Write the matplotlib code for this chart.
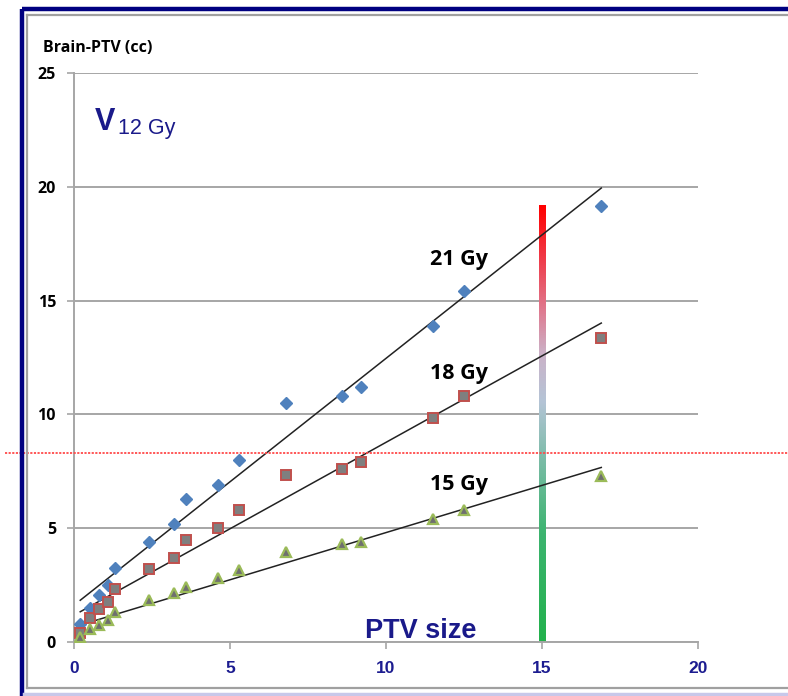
import numpy as np
import matplotlib
matplotlib.use("Agg")
import matplotlib.pyplot as plt
from matplotlib.lines import Line2D
from matplotlib.colors import LinearSegmentedColormap
import matplotlib.transforms as mtransforms

# ---- data ----
ptv_size = [0.2, 0.5, 0.8, 1.1, 1.3, 2.4, 3.2, 3.6, 4.6, 5.3, 6.8, 8.6, 9.2, 11.5, 12.5, 16.9]
v12_21gy = [0.8, 1.5, 2.05, 2.5, 3.25, 4.4, 5.2, 6.3, 6.9, 8.0, 10.5, 10.8, 11.2, 13.9, 15.4, 19.15]
v12_18gy = [0.4, 1.05, 1.45, 1.75, 2.35, 3.2, 3.7, 4.5, 5.0, 5.8, 7.35, 7.6, 7.9, 9.85, 10.8, 13.35]
v12_15gy = [0.2, 0.55, 0.75, 0.97, 1.3, 1.85, 2.15, 2.4, 2.8, 3.15, 3.95, 4.3, 4.4, 5.4, 5.8, 7.3]
series_labels = ["21 Gy", "18 Gy", "15 Gy"]
label_pos = [(12.35, 16.8), (12.35, 11.8), (12.35, 6.9)]
bar_x = 15.0
bar_top = 19.2
threshold_y = 8.3
x_ticks = [0, 5, 10, 15, 20]
y_ticks = [0, 5, 10, 15, 20, 25]

W, H = 788, 696
fig = plt.figure(figsize=(W / 100, H / 100), dpi=100)
fig.patch.set_facecolor("white")

def fx(px):
    return px / W

def fy(py):
    return 1 - py / H

ax = fig.add_axes([fx(74), fy(642), fx(698) - fx(74), fy(73) - fy(642)])
ax.set_xlim(0, 20)
ax.set_ylim(0, 25)
ax.set_facecolor("white")

grid_col = "#a6a6a6"
for s in ["top", "right"]:
    ax.spines[s].set_visible(False)
for s in ["left", "bottom"]:
    ax.spines[s].set_color(grid_col)
    ax.spines[s].set_linewidth(1.4)
ax.set_xticks(x_ticks)
ax.set_yticks(y_ticks)
ax.yaxis.grid(True, color=grid_col, linewidth=1.4)
ax.set_axisbelow(True)
ax.tick_params(axis="both", direction="out", length=5, width=1.2, color=grid_col)
ax.tick_params(axis="y", pad=8)
ax.tick_params(axis="x", pad=9)
for lab in ax.get_yticklabels():
    lab.set_fontfamily("Open Sans")
    lab.set_fontweight("bold")
    lab.set_fontsize(11.5)
    lab.set_color("black")
for lab in ax.get_xticklabels():
    lab.set_fontfamily("Liberation Sans")
    lab.set_fontweight("bold")
    lab.set_fontsize(12.5)
    lab.set_color("#1c1c90")

x = np.array(ptv_size)
series = [np.array(v12_21gy), np.array(v12_18gy), np.array(v12_15gy)]

# gradient bar
cmap = LinearSegmentedColormap.from_list(
    "bar",
    [(0.0, "#22b14c"), (0.25, "#3db470"), (0.42, "#7cbca8"), (0.55, "#b4c4d6"),
     (0.66, "#cbb2c8"), (0.76, "#df7a90"), (0.88, "#f03a48"), (1.0, "#ff0000")])
grad = np.linspace(0, 1, 256).reshape(-1, 1)
ax.imshow(grad, cmap=cmap, origin="lower", aspect="auto",
          extent=[bar_x - 0.11, bar_x + 0.11, 0, bar_top], zorder=2)
ax.set_xlim(0, 20)
ax.set_ylim(0, 25)

# fit lines
xx = np.array([x.min(), x.max()])
for y in series:
    k, b = np.polyfit(x, y, 1)
    ax.plot(xx, k * xx + b, color="#222222", linewidth=1.1, zorder=3)

# markers
ax.plot(x, series[0], linestyle="none", marker="D", markersize=6.0,
        markerfacecolor="#4f81bd", markeredgecolor="#4f81bd", zorder=4)
ax.plot(x, series[1], linestyle="none", marker="s", markersize=7.4,
        markerfacecolor="#7f7f7f", markeredgecolor="#c0504d", markeredgewidth=1.4, zorder=4)
ax.plot(x, series[2], linestyle="none", marker="^", markersize=7.8,
        markerfacecolor="#6f6f6f", markeredgecolor="#9bbb59", markeredgewidth=1.6, zorder=4)

for lab, (lx, ly) in zip(series_labels, label_pos):
    ax.text(lx, ly, lab, ha="center", va="center", fontsize=15.5, fontweight="bold",
            family="Open Sans", color="black", zorder=5)

# V12 Gy
navy = "#1a1a8a"
ax.text(0.67, 22.5, "V", ha="left", va="baseline", fontsize=22, fontweight="bold",
        family="Liberation Sans", color=navy)
ax.text(1.41, 22.3, "12 Gy", ha="left", va="baseline", fontsize=15.5,
        family="Liberation Sans", color=navy)

# PTV size
ax.text(11.1, 0.5, "PTV size", ha="center", va="center", fontsize=19.5, fontweight="bold",
        family="Liberation Sans", color=navy, zorder=5)

# y label
fig.text(fx(43), fy(52), "Brain-PTV (cc)", ha="left", va="baseline", fontsize=11.5,
         fontweight="bold", family="Open Sans", color="black")

# red dotted threshold line across the figure
trans = mtransforms.blended_transform_factory(fig.transFigure, ax.transData)
ax.plot([fx(5), 1.0], [threshold_y, threshold_y], transform=trans, clip_on=False,
        color="#ff4a4a", linewidth=1.3, linestyle=(0, (1.2, 0.8)), zorder=6)

# frame
def fline(xs, ys, **kw):
    fig.add_artist(Line2D([fx(v) for v in xs], [fy(v) for v in ys],
                          transform=fig.transFigure, **kw))

fline([21.5, 21.5], [9, 700], color="#000080", linewidth=3.2, solid_capstyle="butt")
fline([21.5, 790], [9, 9], color="#000080", linewidth=3.2, solid_capstyle="butt")
fline([27, 27], [15, 688], color="#a0a0a0", linewidth=1.6)
fline([27, 790], [15, 15], color="#a0a0a0", linewidth=1.6)
fline([27, 790], [688, 688], color="#a0a0a0", linewidth=1.6)
fline([24, 790], [694, 694], color="#c8c8ea", linewidth=2.5)

fig.savefig("out.png", dpi=100)
